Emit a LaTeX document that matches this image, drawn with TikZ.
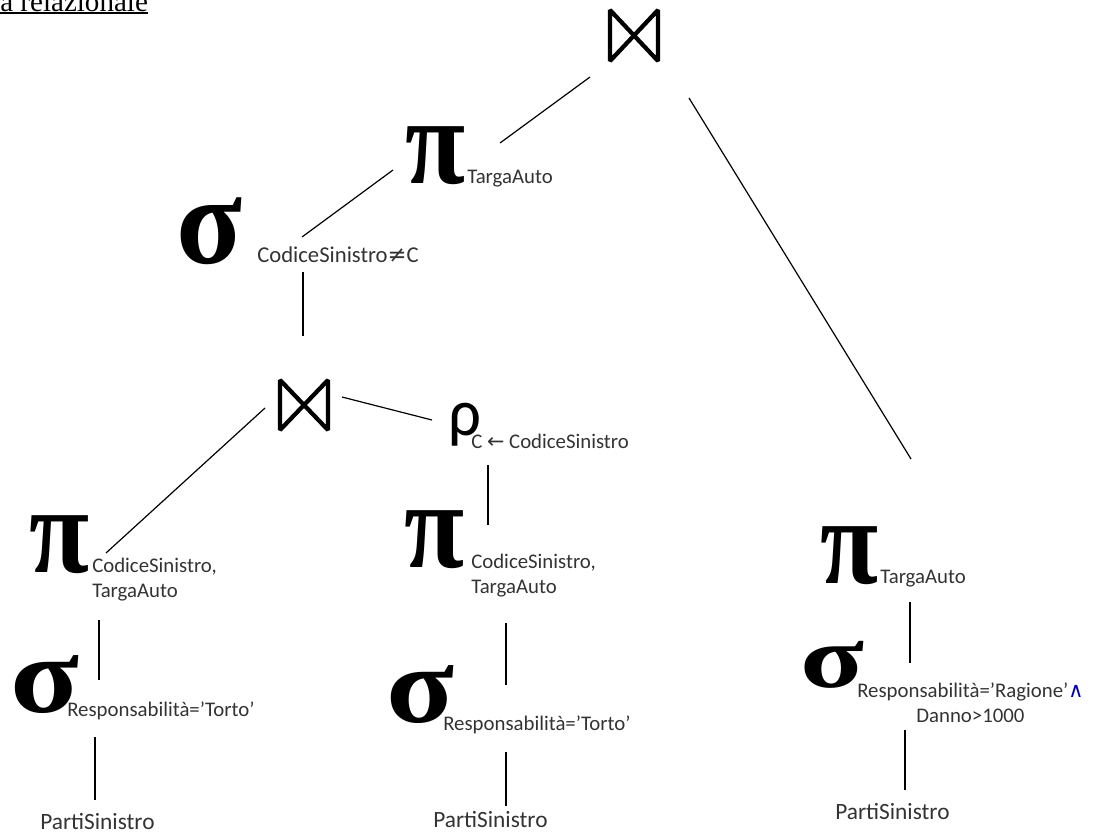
\documentclass[tikz,border=0pt]{standalone}
\usepackage{fontspec}
\setmainfont{Carlito}
\newfontfamily\serifgr{Liberation Serif}
\newfontfamily\djv{DejaVu Sans}
\newlength\upx \setlength\upx{0.75pt}
\newcommand\glyph[3]{\resizebox*{#1\upx}{#2\upx}{#3}}
\tikzset{
  conn/.style={line width=0.9pt, black},
  joinsym/.style={line width=3.2pt, line join=bevel, black},
  bigsym/.style={inner sep=0pt, anchor=south west},
  sub/.style={inner sep=0pt, anchor=base west, text=black!80, font=\fontsize{15.6}{18.75}\selectfont},
  rel/.style={inner sep=0pt, anchor=base west, text=black!80, font=\fontsize{17.5}{21}\selectfont},
}
\begin{document}
\begin{tikzpicture}[x=0.75pt,y=-0.75pt]
\useasboundingbox (0,0) rectangle (1095,833);
% title
\node[inner sep=0pt, anchor=base west, font=\serifgr\fontsize{21.8}{24}\selectfont] (title) at (0,11) {a relazionale};
\draw[line width=1.5pt] ([yshift=-1.6pt]title.base west) -- ([yshift=-1.6pt]title.base east);

% join symbols
\draw[joinsym] (610,10) -- (658,61) -- (658,10) -- (610,61) -- cycle;
\coordinate (jtop) at (634,35);
\draw[joinsym] (280,380) -- (328,430) -- (328,380) -- (280,430) -- cycle;
\coordinate (jmid) at (304,405);

% big symbols
\node[bigsym] (pi1) at (405,185) {\glyph{60}{58}{\serifgr\bfseries π}};
\node[sub] (pi1s) at (467,183) {TargaAuto};

\node[bigsym] (sig1) at (176,265) {\glyph{66}{67}{\serifgr\bfseries σ}};
\node[rel, font=\fontsize{17}{20}\selectfont] (sig1s) at (257,262) {CodiceSinistro{\djv ≠}C};

\node[bigsym] (rho) at (448,446) {\glyph{33}{43}{ρ}};
\node[sub] (rhos) at (471,448) {C {\djv ←} CodiceSinistro};

\node[bigsym] (piL) at (29,574) {\glyph{60}{58}{\serifgr\bfseries π}};
\node[sub, align=left] (piLs) at (92,597) {CodiceSinistro,\\TargaAuto};

\node[bigsym] (piM) at (404,569) {\glyph{60}{58}{\serifgr\bfseries π}};
\node[sub, align=left] (piMs) at (471,593) {CodiceSinistro,\\TargaAuto};

\node[bigsym] (piR) at (820,585) {\glyph{58}{58}{\serifgr\bfseries π}};
\node[sub] (piRs) at (880,583) {TargaAuto};

\node[bigsym] (sigL) at (10,714) {\glyph{69}{58}{\serifgr\bfseries σ}};
\node[sub] (sigLs) at (67,716) {Responsabilità=’Torto’};

\node[bigsym] (sigM) at (386,724) {\glyph{68}{58}{\serifgr\bfseries σ}};
\node[sub] (sigMs) at (443,730) {Responsabilità=’Torto’};

\node[bigsym] (sigR) at (800,689) {\glyph{64}{47}{\serifgr\bfseries σ}};
\node[sub, align=center] (sigRs) at (857,722) {Responsabilità=’Ragione’{\djv\color{blue!70!black}∧}\\Danno>1000};

\node[rel] (psL) at (40,829) {PartiSinistro};
\node[rel] (psM) at (433,827) {PartiSinistro};
\node[rel] (psR) at (835,819) {PartiSinistro};

% connector end points
\coordinate (a1) at (590,77);  \coordinate (a2) at (500,143);
\coordinate (b1) at (689,98);  \coordinate (b2) at (911,459);
\coordinate (c1) at (393,170); \coordinate (c2) at (302,237);
\coordinate (d1) at (303,272); \coordinate (d2) at (303,336);
\coordinate (e1) at (265,408); \coordinate (e2) at (106,553);
\coordinate (f1) at (342,397); \coordinate (f2) at (432,420);
\coordinate (g1) at (488,465); \coordinate (g2) at (488,525);
\coordinate (h1) at (99,620);  \coordinate (h2) at (99,680);
\coordinate (i1) at (95,737);  \coordinate (i2) at (95,800);
\coordinate (k1) at (506,623); \coordinate (k2) at (506,685);
\coordinate (l1) at (506,752); \coordinate (l2) at (506,806);
\coordinate (m1) at (910,602); \coordinate (m2) at (910,663);
\coordinate (n1) at (905,730); \coordinate (n2) at (905,790);

\draw[conn] (a1) -- (a2);
\draw[conn] (b1) -- (b2);
\draw[conn] (c1) -- (c2);
\draw[conn] (d1) -- (d2);
\draw[conn] (e1) -- (e2);
\draw[conn] (f1) -- (f2);
\draw[conn] (g1) -- (g2);
\draw[conn] (h1) -- (h2);
\draw[conn] (i1) -- (i2);
\draw[conn] (k1) -- (k2);
\draw[conn] (l1) -- (l2);
\draw[conn] (m1) -- (m2);
\draw[conn] (n1) -- (n2);
\end{tikzpicture}
\end{document}
